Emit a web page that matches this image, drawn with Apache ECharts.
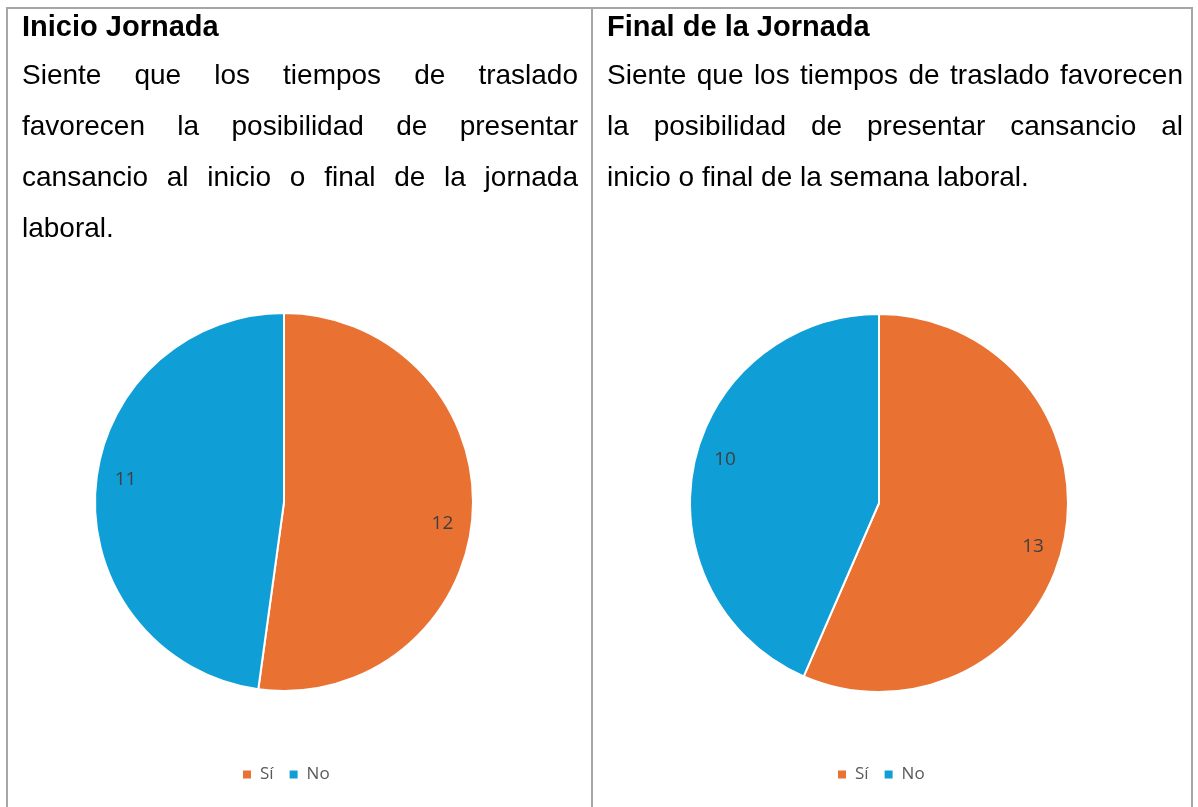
<!DOCTYPE html>
<html lang="es">
<head>
<meta charset="UTF-8">
<title>Inicio / Final de la Jornada</title>
<script src="https://cdn.jsdelivr.net/npm/echarts@6/dist/echarts.min.js"></script>
<style>
    html, body { margin: 0; padding: 0; background: #fff; }
    body { width: 1198px; height: 807px; position: relative; overflow: hidden;
           font-family: "Liberation Sans", Arial, sans-serif; color: #000; }
    #main { position: absolute; left: 0; top: 0; width: 1198px; height: 807px; }
    .rule { position: absolute; background: #a6a6a6; }
    .cell { position: absolute; top: 3px; }
    .cell h3 { margin: 0; font-size: 29px; line-height: 46px; font-weight: bold; }
    .cell .ln { font-size: 28px; line-height: 51px; text-align: justify; text-align-last: justify; white-space: nowrap; }
    .cell .ln.last { text-align-last: left; }
</style>
</head>
<body>
<div id="main"></div>

<div class="rule" style="left:6px;top:7px;width:1187px;height:2px;"></div>
<div class="rule" style="left:6px;top:7px;width:2px;height:800px;"></div>
<div class="rule" style="left:591px;top:7px;width:2px;height:800px;"></div>
<div class="rule" style="left:1191px;top:7px;width:2px;height:800px;"></div>

<div class="cell" style="left:22px;width:556px;">
    <h3>Inicio Jornada</h3>
    <div class="ln">Siente que los tiempos de traslado</div>
    <div class="ln">favorecen la posibilidad de presentar</div>
    <div class="ln">cansancio al inicio o final de la jornada</div>
    <div class="ln last">laboral.</div>
</div>
<div class="cell" style="left:607px;width:576px;">
    <h3>Final de la Jornada</h3>
    <div class="ln">Siente que los tiempos de traslado favorecen</div>
    <div class="ln">la posibilidad de presentar cansancio al</div>
    <div class="ln last">inicio o final de la semana laboral.</div>
</div>

<script type="text/javascript">
    var categories = ['Sí', 'No'];
    var inicioValues = [12, 11];
    var finalValues = [13, 10];
    var colors = ['#E97132', '#0F9ED5'];

    function toData(values) {
        return categories.map(function (name, i) {
            return {name: name, value: values[i]};
        });
    }

    // the real pie, no labels
    function piece(center, values) {
        return {
            type: 'pie',
            center: center,
            radius: 189,
            startAngle: 90,
            clockwise: true,
            label: {show: false},
            labelLine: {show: false},
            itemStyle: {borderColor: '#fff', borderWidth: 2},
            emphasis: {disabled: true},
            data: toData(values)
        };
    }

    // see-through ring, only there to put the value labels near the rim
    // (turned a few degrees, excel's "best fit" sits a bit past mid angle)
    function labelRing(center, values) {
        return {
            type: 'pie',
            center: center,
            radius: [125, 189],
            startAngle: 86,
            clockwise: true,
            silent: true,
            itemStyle: {color: 'rgba(0,0,0,0)'},
            label: {
                show: true,
                position: 'inside',
                formatter: '{c}',
                color: '#404040',
                fontSize: 19,
                fontFamily: 'Open Sans'
            },
            labelLine: {show: false},
            emphasis: {disabled: true},
            data: toData(values)
        };
    }

    function legend(left) {
        return {
            data: categories,
            left: left,
            top: 766,
            padding: 0,
            icon: 'rect',
            itemWidth: 10,
            itemHeight: 10,
            itemGap: 14,
            textStyle: {color: '#595959', fontSize: 17, fontFamily: 'Open Sans', padding: [0, 0, 0, 3]}
        };
    }

    var option = {
        animation: false,
        color: colors,
        legend: [legend(241), legend(836)],
        series: [
            piece([284, 502], inicioValues),
            piece([879, 503], finalValues),
            labelRing([284, 502], inicioValues),
            labelRing([879, 503], finalValues)
        ]
    };

    var myChart = echarts.init(document.getElementById('main'));
    myChart.setOption(option);
</script>
</body>
</html>
